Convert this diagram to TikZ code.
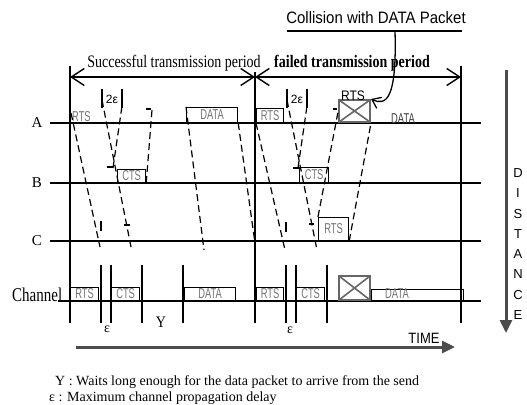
\documentclass[tikz,border=0pt]{standalone}
\usepackage{fontspec}
\setmainfont{Liberation Serif}
\setsansfont{Liberation Sans}
\usetikzlibrary{arrows.meta, positioning}
\colorlet{pktgray}{black!55}
\colorlet{axisgray}{black!70}
\newcommand\vstretch[2]{\scalebox{1}[#1]{#2}}
\newcommand\pkttxt[1]{\scalebox{0.85}[1.3]{#1}}
\tikzset{
  station/.style={font=\fontsize{15}{17}\selectfont},
  timeline/.style={line width=1.8pt},
  marker/.style={line width=1.3pt},
  prop/.style={dash pattern=on 7pt off 4pt, line width=1.2pt},
  pkt/.style={draw, line width=1.2pt, inner sep=0pt, anchor=south west,
    font=\fontsize{11}{12}\selectfont\sffamily, text=pktgray},
  pktlbl/.style={font=\fontsize{11}{12}\selectfont\sffamily, text=pktgray, inner sep=1pt},
  xbox/.style={draw=black!60, line width=2pt, inner sep=0pt, anchor=south west,
    path picture={\draw[black!60, line width=1.6pt]
      (path picture bounding box.south west) -- (path picture bounding box.north east)
      (path picture bounding box.north west) -- (path picture bounding box.south east);}},
  period/.style={{Straight Barb[length=13pt,width=17pt]}-{Straight Barb[length=13pt,width=17pt]},
    line width=1.4pt},
  periodtxt/.style={font=\fontsize{14}{16}\selectfont},
  gap/.style={font=\fontsize{12}{14}\selectfont\sffamily},
  axis/.style={-{Triangle[length=13pt,width=12pt]}, line width=3pt, color=axisgray},
  callout/.style={-{Straight Barb[length=8pt,width=12pt]}, line width=1.3pt},
  legend/.style={font=\fontsize{14}{16}\selectfont, anchor=west, inner sep=0pt}
}

\begin{document}
\begin{tikzpicture}[x=1pt, y=-1pt]
  \useasboundingbox (0,0) rectangle (527,404);

  % stations and time lines
  \foreach \st/\y in {A/123, B/183, C/241}{
    \node[station] (lbl\st) at (37,\y) {\st};
    \draw[timeline] (50,\y) -- (481,\y);
  }
  \node[station, anchor=base west, inner sep=0pt] (lblCh) at (12,301) {\vstretch{1.3}{Channel}};
  \draw[timeline] (58,301) -- (481,301);

  % periods
  \coordinate (t0) at (70,77);
  \coordinate (t1) at (255,77);
  \coordinate (t2) at (461,77);
  \draw[timeline] (70,66) -- (70,323);
  \draw[timeline] (255,72) -- (255,323);
  \draw[timeline] (461,66) -- (461,323);
  \draw[period] (t0) -- (t1);
  \draw[period] (t1) -- (t2);
  \node[periodtxt] (okper) at (174,63) {\vstretch{1.25}{Successful transmission period}};
  \node[periodtxt, font=\fontsize{14}{16}\selectfont\bfseries] (badper) at (352,63)
    {\vstretch{1.25}{failed transmission period}};

  % packets on the stations
  \node[pktlbl, anchor=south west] (rtsA) at (71,123) {\pkttxt{RTS}};
  \node[pkt, minimum width=51pt, minimum height=15pt] (dataA) at (186,123) {\pkttxt{DATA}};
  \node[pkt, minimum width=28pt, minimum height=13pt] (ctsB) at (117,183) {\pkttxt{CTS}};
  \node[pkt, minimum width=27pt, minimum height=14pt] (rtsA2) at (256,123) {\pkttxt{RTS}};
  \node[xbox, minimum width=31pt, minimum height=22pt] (xA) at (338,123) {};
  \node[pkt, minimum width=29pt, minimum height=15pt] (ctsB2) at (299,183) {\pkttxt{CTS}};
  \node[pkt, minimum width=30pt, minimum height=23pt] (rtsC) at (318,241) {\pkttxt{RTS}};
  \node[gap] (rtsX) at (353,96) {\vstretch{1.15}{RTS}};
  \node[pktlbl, text=black!75] (dataX) at (403,119) {\pkttxt{DATA}};

  % packets on the channel
  \node[pkt, minimum width=28pt, minimum height=13pt] (rtsCh) at (70,301) {\pkttxt{RTS}};
  \node[pkt, minimum width=28pt, minimum height=13pt] (ctsCh) at (111,301) {\pkttxt{CTS}};
  \node[pkt, minimum width=51pt, minimum height=13pt] (dataCh) at (184,301) {\pkttxt{DATA}};
  \node[pkt, minimum width=27pt, minimum height=13pt] (rtsCh2) at (256,301) {\pkttxt{RTS}};
  \node[pkt, minimum width=28pt, minimum height=13pt] (ctsCh2) at (296,301) {\pkttxt{CTS}};
  \node[xbox, minimum width=31pt, minimum height=24pt] (xCh) at (338,301) {};
  \node[pkt, minimum width=92pt, minimum height=11pt] (dataCh2) at (xCh.south east) {};
  \node[pktlbl] (dataCh2lbl) at (397,294) {\pkttxt{DATA}};
  \foreach \x in {101,111,142,183,286,296,327}
    \draw[timeline] (\x,265) -- (\x,323);
  \node[periodtxt] (epsA) at (107,329) {ε};
  \node[periodtxt] (waitY) at (161,322) {\vstretch{1.15}{Y}};
  \node[periodtxt] (epsB) at (290,330) {ε};

  % 2 epsilon brackets
  \node[gap] (gapA) at (112,99) {2ε};
  \node[gap] (gapB) at (297,99) {2ε};
  \foreach \x in {102,122,287,307}
    \draw[marker] (\x,89) -- (\x,108);

  % propagation, successful period
  \draw[prop] (71,113) -- (100,247);
  \draw[prop] (102,100) -- (131,247);
  \draw[prop] (113,168) -- (122,106);
  \draw[prop] (ctsB.south east) -- (152,110);
  \draw[prop] (dataA.north west) -- (204,250);
  \draw[prop] (dataA.south east) -- (255,243);
  \draw[marker] (107,167) -- (113,167) (146,109) -- (151,109)
    (101,221) -- (101,231) (124,225) -- (130,225);

  % propagation, failed period
  \draw[prop] (rtsA2.south west) -- (285,250);
  \draw[prop] (287,100) -- (317,250);
  \draw[prop] (298,168) -- (307,106);
  \draw[prop] (rtsC.north west) -- (338,112);
  \draw[prop] (rtsC.south east) -- (xA.south east);
  \draw[marker] (293,168) -- (300,168) (333,109) -- (337,109)
    (286,222) -- (286,232) (309,224) -- (314,224);

  % collision callout
  \node[font=\fontsize{15}{17}\selectfont\sffamily] (coll) at (376,18)
    {\vstretch{1.1}{Collision with DATA Packet}};
  \coordinate (collfoot) at (395,31);
  \draw[marker] (287,31) -- (462,31);
  \draw[callout] (collfoot) .. controls (397,100) and (386,106) .. (xA.north east);

  % axes
  \draw[axis] (506,70) -- (506,333);
  \foreach \ch [count=\i] in {D,I,S,T,A,N,C,E}
    \node[font=\fontsize{13}{15}\selectfont\sffamily] (dist\i) at (518,152.7+\i*20.3) {\ch};
  \draw[axis] (76,347) -- (455,347);
  \node[font=\fontsize{13}{15}\selectfont\sffamily] (timelbl) at (424,338) {\vstretch{1.15}{TIME}};

  % legend
  \node[legend] (legY) at (55,382) {Y : Waits long enough for the data packet to arrive from the send};
  \node[legend] (legE) at (49,398) {ε : Maximum channel propagation delay};
\end{tikzpicture}
\end{document}
